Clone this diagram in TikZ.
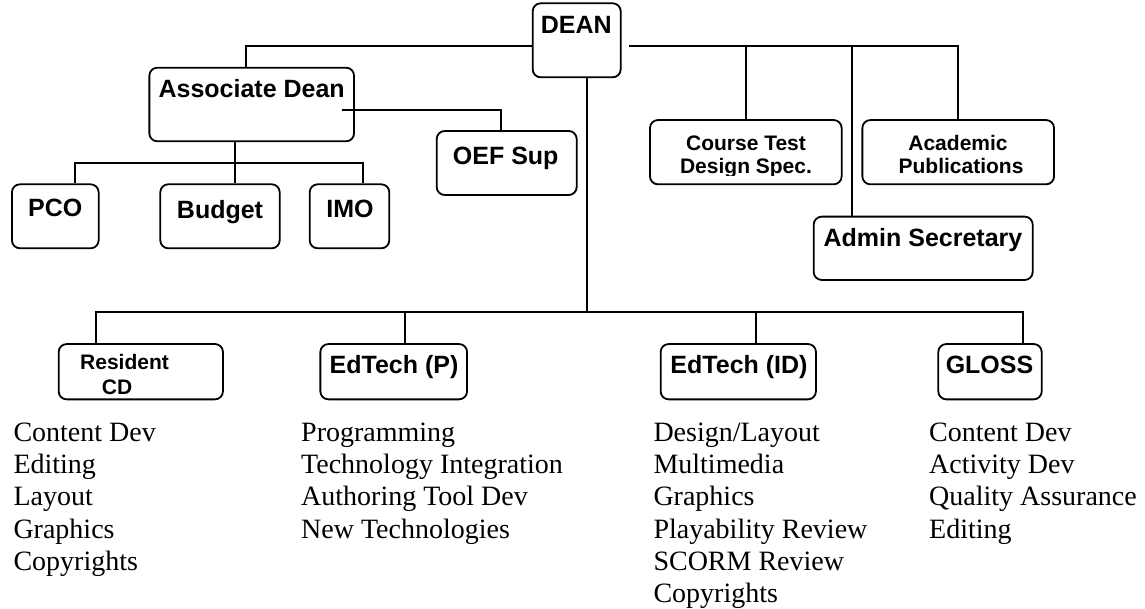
\documentclass[tikz,border=0pt]{standalone}
\usepackage{fontspec}
\setmainfont{Liberation Serif}
\newfontfamily\arialb{Liberation Sans}[UprightFont={* Bold}, BoldFont={* Bold}]
\begin{document}
\begin{tikzpicture}[x=1pt,y=-1pt,
  box/.style={draw, line width=1.8pt, rounded corners=8pt, inner sep=0pt},
  wire/.style={line width=1.8pt},
  hb/.style={font=\arialb\bfseries\fontsize{25}{28}\selectfont, inner sep=0pt, anchor=base},
  hs/.style={font=\arialb\bfseries\fontsize{21}{24}\selectfont, inner sep=0pt, anchor=base},
  hsl/.style={font=\arialb\bfseries\fontsize{21}{24}\selectfont, inner sep=0pt, anchor=base west},
  li/.style={font=\fontsize{28}{32}\selectfont, inner sep=0pt, anchor=base west}]
\useasboundingbox (0,0) rectangle (1145,609);

% boxes
\node[box, minimum width=88pt, minimum height=74pt] (dean) at (576.7,40.3) {};
\node[box, minimum width=204.7pt, minimum height=73.6pt] (assoc) at (251.7,104.5) {};
\node[box, minimum width=140pt, minimum height=64pt] (oef) at (506.7,163) {};
\node[box, minimum width=86.7pt, minimum height=64pt] (pco) at (55.3,216.3) {};
\node[box, minimum width=119.4pt, minimum height=64pt] (budget) at (220,216.3) {};
\node[box, minimum width=79.6pt, minimum height=64pt] (imo) at (349.5,216.3) {};
\node[box, minimum width=191.7pt, minimum height=64.3pt] (course) at (745.8,152.2) {};
\node[box, minimum width=191.7pt, minimum height=64.3pt] (acad) at (958.2,152.2) {};
\node[box, minimum width=219pt, minimum height=63.3pt] (admin) at (923.2,248.3) {};
\node[box, minimum width=164.3pt, minimum height=55.3pt] (resid) at (140.8,371.7) {};
\node[box, minimum width=146.7pt, minimum height=55.3pt] (edp) at (393.7,371.7) {};
\node[box, minimum width=155.3pt, minimum height=55.3pt] (edid) at (738.3,371.7) {};
\node[box, minimum width=103.4pt, minimum height=55.3pt] (gloss) at (990,371.7) {};

% box texts
\node[hb] (tdean) at (576.3,34) {DEAN};
\node[hb] (tassoc) at (251.7,98) {Associate Dean};
\node[hb] (toef) at (505.7,165) {OEF Sup};
\node[hb] (tpco) at (55.3,217) {PCO};
\node[hb] (tbudget) at (220,219) {Budget};
\node[hb] (timo) at (350,218) {IMO};
\begin{scope}
\clip (640,110) rectangle (1060,175.5);
\node[hs] (tcourse1) at (746,150.7) {Course Test};
\node[hs] (tcourse2) at (746,173.8) {Design Spec.};
\node[hs] (tacad1) at (958,150.7) {Academic};
\node[hs] (tacad2) at (961,173.8) {Publications};
\end{scope}
\node[hb] (tadmin) at (923,247) {Admin Secretary};
\node[hsl] (tres1) at (80,369.3) {Resident};
\node[hsl] (tres2) at (101.7,394) {CD};
\node[hb] (tedp) at (394,373.3) {EdTech (P)};
\node[hb] (tedid) at (739,373.3) {EdTech (ID)};
\node[hb] (tgloss) at (989.5,373.3) {GLOSS};

% bus coordinates
\coordinate (topbus) at (0,45.7);
\coordinate (midbus) at (235,163.3);
\coordinate (lowbus) at (586.7,312.3);

% connectors
\draw[wire] (dean.west |- topbus) -| ([xshift=-6pt]assoc.north);
\draw[wire] ([xshift=7.6pt]dean.east |- topbus) -| (acad.north);
\draw[wire] (course.north) -- (course.north |- topbus);
\draw[wire] ([xshift=-70.9pt]admin.north) coordinate (adm) -- (adm |- topbus);
\draw[wire] ([shift={(-13.3pt,-5.2pt)}]assoc.east) -| ([xshift=-5.7pt]oef.north);
\draw[wire] ([xshift=15pt]budget.north) -- ([xshift=-16.7pt]assoc.south);
\draw[wire] ([xshift=20pt]pco.north) |- (midbus) -| ([xshift=13.2pt]imo.north);
\draw[wire] ([xshift=10pt]dean.south) -- (lowbus);
\draw[wire] ([xshift=-44.8pt]resid.north) |- (lowbus) -| ([xshift=32.7pt]gloss.north);
\draw[wire] ([xshift=11.6pt]edp.north) coordinate (ep) -- (ep |- lowbus);
\draw[wire] ([xshift=18pt]edid.north) coordinate (ei) -- (ei |- lowbus);

% lists
\foreach \t [count=\i from 0] in {Content Dev, Editing, Layout, Graphics, Copyrights}
  \node[li] (la\i) at (13.3,{441.7+32.1*\i}) {\t};
\foreach \t [count=\i from 0] in {Programming, Technology Integration, Authoring Tool Dev, New Technologies}
  \node[li] (lb\i) at (301,{441.7+32.1*\i}) {\t};
\foreach \t [count=\i from 0] in {Design/Layout, Multimedia, Graphics, Playability Review, SCORM Review, Copyrights}
  \node[li] (lc\i) at (653.3,{441.7+32.1*\i}) {\t};
\foreach \t [count=\i from 0] in {Content Dev, Activity Dev, Quality Assurance, Editing}
  \node[li] (ld\i) at (929,{441.7+32.1*\i}) {\t};
\end{tikzpicture}
\end{document}
